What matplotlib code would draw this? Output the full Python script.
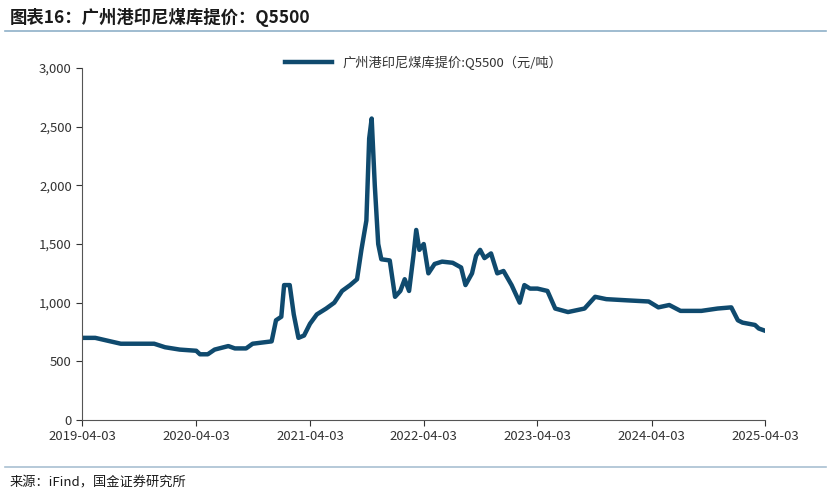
import matplotlib
matplotlib.use("Agg")
import matplotlib.pyplot as plt
import matplotlib.dates as mdates
import matplotlib.ticker as mticker
import pandas as pd

plt.rcParams["font.family"] = ["Noto Sans CJK SC", "DejaVu Sans"]

DATES = [
    "2019-04-03", "2019-05-15", "2019-07-03", "2019-08-05", "2019-11-20", "2019-12-25",
    "2020-02-10", "2020-04-03", "2020-04-15", "2020-05-10", "2020-06-01", "2020-07-15",
    "2020-08-05", "2020-09-10", "2020-10-01", "2020-12-01", "2020-12-15", "2021-01-01",
    "2021-01-10", "2021-01-28", "2021-02-10", "2021-02-25", "2021-03-15", "2021-04-03",
    "2021-04-25", "2021-05-25", "2021-06-20", "2021-07-15", "2021-08-10", "2021-09-01",
    "2021-09-15", "2021-10-01", "2021-10-10", "2021-10-18", "2021-10-28", "2021-11-08",
    "2021-11-18", "2021-12-15", "2022-01-01", "2022-01-18", "2022-02-01", "2022-02-15",
    "2022-03-01", "2022-03-10", "2022-03-20", "2022-04-03", "2022-04-18", "2022-05-08",
    "2022-06-01", "2022-07-05", "2022-08-01", "2022-08-15", "2022-09-05", "2022-09-18",
    "2022-10-01", "2022-10-15", "2022-11-05", "2022-11-25", "2022-12-15", "2023-01-10",
    "2023-02-05", "2023-02-20", "2023-03-10", "2023-04-03", "2023-05-05", "2023-05-30",
    "2023-07-10", "2023-09-01", "2023-10-05", "2023-11-10", "2024-01-15", "2024-03-25",
    "2024-04-25", "2024-05-30", "2024-07-05", "2024-09-10", "2024-11-01", "2024-12-15",
    "2025-01-05", "2025-01-20", "2025-03-01", "2025-03-13", "2025-04-03",
]
PRICE = [
    700, 700, 670, 650, 650, 620,
    600, 590, 560, 560, 600, 630,
    610, 610, 650, 670, 850, 880,
    1150, 1150, 900, 700, 720, 820,
    900, 950, 1000, 1100, 1150, 1200,
    1450, 1700, 2400, 2570, 2000, 1500,
    1370, 1360, 1050, 1100, 1200, 1100,
    1400, 1620, 1450, 1500, 1250, 1330,
    1350, 1340, 1300, 1150, 1250, 1400,
    1450, 1380, 1420, 1250, 1270, 1150,
    1000, 1150, 1120, 1120, 1100, 950,
    920, 950, 1050, 1030, 1020, 1010,
    960, 980, 930, 930, 950, 960,
    850, 830, 810, 780, 760,
]
TICKS = ["2019-04-03", "2020-04-03", "2021-04-03", "2022-04-03",
         "2023-04-03", "2024-04-03", "2025-04-03"]

fig = plt.figure(figsize=(8.3, 4.97), dpi=100)
ax = fig.add_axes([0.099, 0.155, 0.823, 0.708])

ax.plot(pd.to_datetime(DATES), PRICE, color="#0f4a6e", linewidth=3.2,
        label="广州港印尼煤库提价:Q5500（元/吨）")

tick_dates = pd.to_datetime(TICKS)
ax.set_xticks(tick_dates)
ax.xaxis.set_major_formatter(mdates.DateFormatter("%Y-%m-%d"))
ax.set_xlim(tick_dates[0], tick_dates[-1])
ax.set_ylim(0, 3000)
ax.set_yticks(range(0, 3001, 500))
ax.yaxis.set_major_formatter(mticker.FuncFormatter(lambda v, p: f"{int(v):,}"))
ax.tick_params(labelsize=9.5, colors="#333333", length=4, direction="out")
for s in ("top", "right"):
    ax.spines[s].set_visible(False)
for s in ("left", "bottom"):
    ax.spines[s].set_color("#555555")

ax.legend(loc="upper center", bbox_to_anchor=(0.5, 1.07), frameon=False,
          fontsize=9.5, handlelength=3.5, labelcolor="#333333")

fig.text(0.012, 0.965, "图表16：广州港印尼煤库提价：Q5500", fontsize=12.5,
         fontweight="bold", fontstyle="italic", va="center", color="#1a1a1a")
fig.add_artist(plt.Line2D([0.006, 0.995], [0.938, 0.938], color="#8fb0c8", linewidth=1.2))
fig.add_artist(plt.Line2D([0.006, 0.995], [0.06, 0.06], color="#a9c0d2", linewidth=1.2))
fig.text(0.012, 0.028, "来源：iFind，国金证券研究所", fontsize=9.5,
         va="center", color="#1a1a1a")

fig.savefig("out.png", dpi=100)
